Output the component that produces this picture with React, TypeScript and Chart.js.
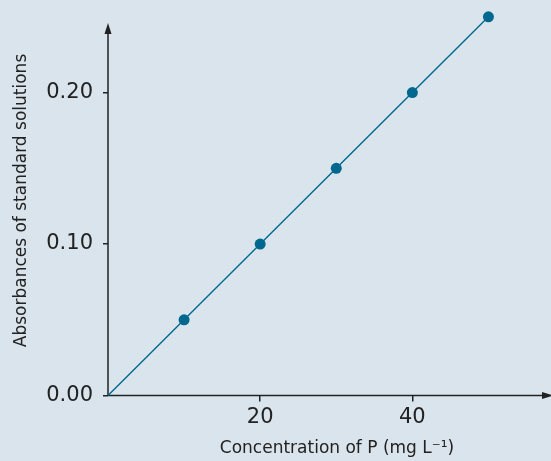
import React, { useEffect, useRef } from "react";
import { Chart, registerables } from "chart.js";

Chart.register(...registerables);

const concentrations = [0, 10, 20, 30, 40, 50];
const absorbances = [0, 0.05, 0.1, 0.15, 0.2, 0.25];
const markerSizes = [0, 5.5, 5.5, 5.5, 5.5, 5.5];
const xTickValues = [20, 40];
const yTickValues = [0, 0.1, 0.2];
const xTitle = "Concentration of P (mg L\u207B\u00B9)";
const yTitle = "Absorbances of standard solutions";

const FONT = "'DejaVu Sans', sans-serif";
const INK = "#222222";
const SERIES = "#00688f";

const axesPlugin = {
  id: "axesArrows",
  beforeDatasetsDraw(chart: any) {
    const { ctx, scales } = chart;
    const xs = scales.x;
    const ys = scales.y;
    const x0 = xs.getPixelForValue(0);
    const y0 = ys.getPixelForValue(0);
    const yTop = 23;
    const xRight = 553;
    ctx.save();
    ctx.strokeStyle = INK;
    ctx.fillStyle = INK;
    ctx.lineWidth = 1.5;
    ctx.beginPath();
    ctx.moveTo(x0, y0);
    ctx.lineTo(x0, yTop + 6);
    ctx.moveTo(x0, y0);
    ctx.lineTo(xRight - 6, y0);
    ctx.stroke();
    ctx.beginPath();
    ctx.moveTo(x0, yTop);
    ctx.lineTo(x0 - 3.5, yTop + 11);
    ctx.lineTo(x0 + 3.5, yTop + 11);
    ctx.closePath();
    ctx.fill();
    ctx.beginPath();
    ctx.moveTo(xRight, y0);
    ctx.lineTo(xRight - 11, y0 - 3.5);
    ctx.lineTo(xRight - 11, y0 + 3.5);
    ctx.closePath();
    ctx.fill();
    ctx.restore();
  },
  afterDraw(chart: any) {
    const { ctx, chartArea } = chart;
    ctx.save();
    ctx.fillStyle = INK;
    ctx.font = `17px ${FONT}`;
    ctx.textAlign = "center";
    ctx.textBaseline = "middle";
    ctx.fillText(xTitle, 337, 449);
    ctx.translate(22, (chartArea.top + chartArea.bottom) / 2);
    ctx.rotate(-Math.PI / 2);
    ctx.fillText(yTitle, 0, 0);
    ctx.restore();
  },
};

export default function App() {
  const ref = useRef<HTMLCanvasElement | null>(null);
  useEffect(() => {
    if (!ref.current) return;
    const chart = new Chart(ref.current, {
      type: "scatter",
      data: {
        datasets: [
          {
            data: concentrations.map((c, i) => ({ x: c, y: absorbances[i] })),
            showLine: true,
            borderColor: SERIES,
            borderWidth: 1.4,
            backgroundColor: SERIES,
            pointRadius: markerSizes,
            pointBorderWidth: 0,
            pointHoverRadius: markerSizes,
            clip: false as any,
          },
        ],
      },
      options: {
        animation: false,
        responsive: true,
        maintainAspectRatio: false,
        layout: { padding: { top: 1.6, right: 0, left: 0, bottom: 0 } },
        plugins: { legend: { display: false }, tooltip: { enabled: false } },
        scales: {
          x: {
            type: "linear",
            min: 0,
            max: 57.5,
            afterFit: (s: any) => {
              s.height = 65.5;
              s.paddingLeft = 0;
              s.paddingRight = 0;
            },
            afterBuildTicks: (s: any) => {
              s.ticks = xTickValues.map((v) => ({ value: v }));
            },
            border: { display: false },
            grid: {
              drawOnChartArea: false,
              drawTicks: true,
              tickLength: 6,
              color: INK,
              lineWidth: 1.5,
            },
            ticks: {
              color: INK,
              font: { family: FONT, size: 21 },
              padding: 3,
              maxRotation: 0,
              callback: (v: any) => String(v),
            },
          },
          y: {
            type: "linear",
            min: 0,
            max: 0.2575,
            afterFit: (s: any) => {
              s.width = 108;
              s.paddingTop = 0;
              s.paddingBottom = 0;
            },
            afterBuildTicks: (s: any) => {
              s.ticks = yTickValues.map((v) => ({ value: v }));
            },
            border: { display: false },
            grid: {
              drawOnChartArea: false,
              drawTicks: true,
              tickLength: 5,
              color: INK,
              lineWidth: 1.5,
            },
            ticks: {
              color: INK,
              font: { family: FONT, size: 21 },
              padding: 10,
              callback: (v: any) => Number(v).toFixed(2),
            },
          },
        },
      },
      plugins: [axesPlugin],
    });
    return () => chart.destroy();
  }, []);
  return (
    <div
      style={{
        position: "absolute",
        left: 0,
        top: 0,
        width: 551,
        height: 461,
        background: "#dae4ec",
      }}
    >
      <canvas ref={ref} />
    </div>
  );
}
